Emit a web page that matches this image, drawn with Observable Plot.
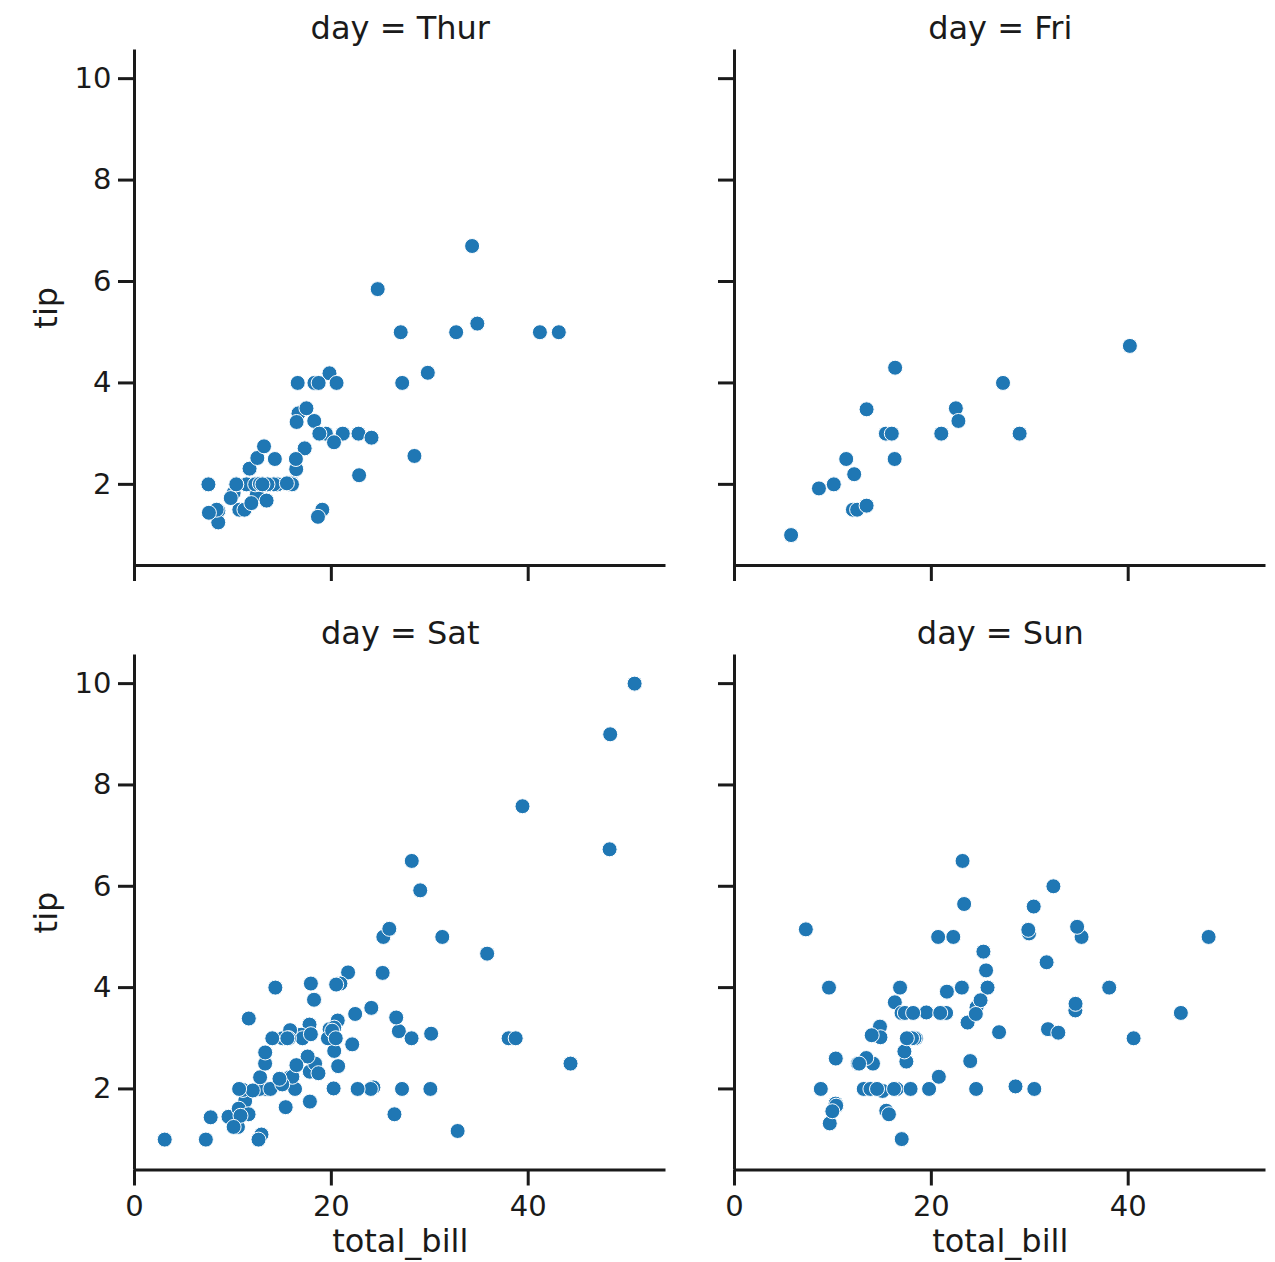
<!DOCTYPE html>
<html>
<head>
<meta charset="utf-8">
<script src="https://cdn.jsdelivr.net/npm/d3@7"></script>
<script src="https://cdn.jsdelivr.net/npm/@observablehq/plot@0.6"></script>
<style>
  html, body { margin: 0; padding: 0; background: white; }
  #wrap { position: relative; width: 1275px; height: 1262px; background: white; }
  .cell { position: absolute; }
</style>
</head>
<body>
<div id="wrap"></div>
<script>
// tips dataset, split by day
const thurBill = [27.2,22.76,17.29,19.44,16.66,10.07,32.68,15.98,34.83,13.03,18.28,24.71,21.16,
  10.65,12.43,24.08,11.69,13.42,14.26,15.95,12.48,29.8,8.52,14.52,11.38,22.82,19.08,20.27,11.17,12.26,18.26,8.51,10.33,14.15,16.0,13.16,17.47,34.3,41.19,27.05,16.43,8.35,18.64,11.87,9.78,7.51,
  19.81,28.44,15.48,16.58,7.56,10.34,43.11,13.0,13.51,18.71,12.74,13.0,16.4,20.53,16.47,
  18.78];
const thurTip = [4.0,3.0,2.71,3.0,3.4,1.83,5.0,2.03,5.17,2.0,4.0,5.85,3.0,
  1.5,1.8,2.92,2.31,1.68,2.5,2.0,2.52,4.2,1.48,2.0,2.0,2.18,1.5,2.83,1.5,2.0,3.25,1.25,2.0,2.0,2.0,2.75,3.5,6.7,5.0,5.0,2.3,1.5,1.36,1.63,1.73,2.0,
  4.19,2.56,2.02,4.0,1.44,2.0,5.0,2.0,2.0,4.0,2.01,2.0,2.5,4.0,3.23,
  3.0];

const friBill = [28.97,22.49,5.75,16.32,22.75,40.17,27.28,12.03,21.01,12.46,11.35,15.38,
  12.16,13.42,8.58,15.98,13.42,16.27,10.09];
const friTip = [3.0,3.5,1.0,4.3,3.25,4.73,4.0,1.5,3.0,1.5,2.5,3.0,
  2.2,3.48,1.92,3.0,1.58,2.5,2.0];

const satBill = [20.65,17.92,20.29,15.77,39.42,19.82,17.81,13.37,12.69,21.7,19.65,9.55,18.35,15.06,20.69,17.78,24.06,16.31,16.93,18.69,31.27,16.04,
  38.01,26.41,11.24,48.27,20.29,13.81,11.02,18.29,17.59,20.08,16.45,3.07,20.23,15.01,12.02,17.07,26.86,25.28,14.73,10.51,17.92,
  44.3,22.42,20.92,15.36,20.49,25.21,18.24,14.31,14.0,7.25,
  10.59,10.63,50.81,15.81,
  26.59,38.73,24.27,12.76,30.06,25.89,48.33,13.27,28.17,12.9,28.15,11.59,7.74,30.14,
  20.45,13.28,22.12,24.01,15.69,11.61,10.77,15.53,10.07,12.6,32.83,35.83,29.03,27.18,22.67,17.82];
const satTip = [3.35,4.08,2.75,2.23,7.58,3.18,2.34,2.0,2.0,4.3,3.0,1.45,2.5,3.0,2.45,3.27,3.6,2.0,3.07,2.31,5.0,2.24,
  3.0,1.5,1.76,6.73,3.21,2.0,1.98,3.76,2.64,3.15,2.47,1.0,2.01,2.09,1.97,3.0,3.14,5.0,2.2,1.25,3.08,
  2.5,3.48,4.08,1.64,4.06,4.29,3.76,4.0,3.0,1.0,
  1.61,2.0,10.0,3.16,
  3.41,3.0,2.03,2.23,2.0,5.16,9.0,2.5,6.5,1.1,3.0,1.5,1.44,3.09,
  3.0,2.72,2.88,2.0,3.0,3.39,1.47,3.0,1.25,1.0,1.17,4.67,5.92,2.0,2.0,1.75];

const sunBill = [16.99,10.34,21.01,23.68,24.59,25.29,8.77,26.88,15.04,14.78,10.27,35.26,15.42,18.43,14.83,21.58,10.33,16.29,16.97,
  17.46,13.94,9.68,30.4,18.29,22.23,32.4,28.55,18.04,12.54,10.29,34.81,9.94,25.56,19.49,
  38.07,23.95,25.71,17.31,29.93,
  14.07,13.13,17.26,24.55,19.77,29.85,48.17,25.0,13.39,16.49,21.5,12.66,16.21,13.81,17.51,24.52,20.76,31.71,
  7.25,31.85,16.82,32.9,17.89,14.48,9.6,34.63,34.65,23.33,45.35,23.17,40.55,20.69,20.9,30.46,18.15,23.1,15.69];
const sunTip = [1.01,1.66,3.5,3.31,3.61,4.71,2.0,3.12,1.96,3.23,1.71,5.0,1.57,3.0,3.02,3.92,1.67,3.71,3.5,
  2.54,3.06,1.32,5.6,3.0,5.0,6.0,2.05,3.0,2.5,2.6,5.2,1.56,4.34,3.51,
  4.0,2.55,4.0,3.5,5.07,
  2.5,2.0,2.74,2.0,2.0,5.14,5.0,3.75,2.61,2.0,3.5,2.5,2.0,2.0,3.0,3.48,2.24,4.5,
  5.15,3.18,4.0,3.11,2.0,2.0,4.0,3.55,3.68,5.65,3.5,6.5,3.0,5.0,3.5,2.0,3.5,4.0,1.5];

const xTicks = [0, 20, 40];
const yTicks = [2, 4, 6, 8, 10];
const xDomain = [0, 54];
const yDomain = [0.40, 10.565];

const ink = "#1a1a1a";
const dotColor = "#1f77b4";

function panel(o) {
  const data = o.bill.map((b, i) => ({total_bill: b, tip: o.tip[i]}));
  return Plot.plot({
    width: o.width, height: o.height,
    marginLeft: o.mL, marginRight: o.mR, marginTop: o.mT, marginBottom: o.mB,
    style: {fontFamily: "DejaVu Sans", color: ink, background: "transparent", overflow: "visible"},
    x: {domain: xDomain},
    y: {domain: yDomain},
    marks: [
      Plot.ruleX([xDomain[0]], {stroke: ink, strokeWidth: 3}),
      Plot.ruleY([yDomain[0]], {stroke: ink, strokeWidth: 3}),
      Plot.axisY(yTicks, {tickSize: 16, tickPadding: 7, strokeWidth: 3, fontSize: 29, label: null,
        tickFormat: o.showY ? (d => String(d)) : (() => "")}),
      Plot.axisX(xTicks, {tickSize: 16, tickPadding: 9, strokeWidth: 3, fontSize: 29, label: null,
        tickFormat: o.showX ? (d => String(d)) : (() => "")}),
      Plot.dot(data, {x: "total_bill", y: "tip", r: 7.5, fill: dotColor, stroke: "white", strokeWidth: 1}),
      Plot.text([o.title], {frameAnchor: "top", lineAnchor: "middle", textAnchor: "middle", dy: -21.5, fontSize: 32, fill: ink}),
      o.showY ? Plot.text(["tip"], {frameAnchor: "left", lineAnchor: "middle", textAnchor: "middle", dx: -88, rotate: -90, fontSize: 32, fill: ink}) : null,
      o.showX ? Plot.text(["total_bill"], {frameAnchor: "bottom", lineAnchor: "middle", textAnchor: "middle", dy: 72, fontSize: 32, fill: ink}) : null
    ]
  });
}

const wrap = document.getElementById("wrap");
function place(el, left, top) {
  const d = document.createElement("div");
  d.className = "cell";
  d.style.left = left + "px";
  d.style.top = top + "px";
  d.appendChild(el);
  wrap.appendChild(d);
}

place(panel({bill: thurBill, tip: thurTip, title: "day = Thur", showX: false, showY: true,
  width: 700, height: 605, mL: 134, mR: 34.5, mT: 49.5, mB: 40}), 0, 0);
place(panel({bill: friBill, tip: friTip, title: "day = Fri", showX: false, showY: false,
  width: 575, height: 605, mL: 34, mR: 9.5, mT: 49.5, mB: 40}), 700, 0);
place(panel({bill: satBill, tip: satTip, title: "day = Sat", showX: true, showY: true,
  width: 700, height: 657, mL: 134, mR: 34.5, mT: 49.5, mB: 92.5}), 0, 605);
place(panel({bill: sunBill, tip: sunTip, title: "day = Sun", showX: true, showY: false,
  width: 575, height: 657, mL: 34, mR: 9.5, mT: 49.5, mB: 92.5}), 700, 605);
</script>
</body>
</html>
